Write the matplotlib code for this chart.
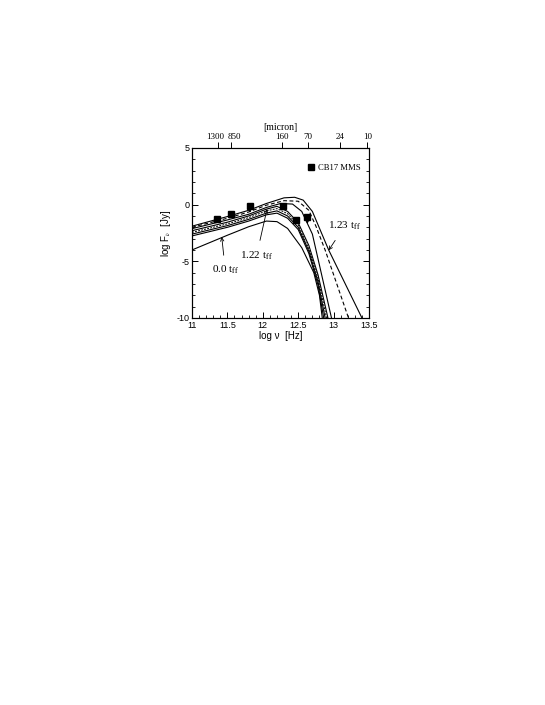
import numpy as np
import matplotlib
matplotlib.use("Agg")
import matplotlib.pyplot as plt
import matplotlib.transforms as mtransforms

plt.rcParams['font.family'] = ['Liberation Sans', 'DejaVu Sans']
plt.rcParams['mathtext.fontset'] = 'stix'
plt.rcParams['axes.unicode_minus'] = False

# model SEDs (log nu [Hz], log F_nu [Jy])
t0_x = [11.0, 11.5, 11.8, 12.05, 12.2, 12.35, 12.55, 12.72, 12.8, 12.84]
t0_y = [-4.0, -2.7, -1.95, -1.45, -1.5, -2.1, -3.8, -6.0, -8.0, -10.0]

g1_x = [11.0, 11.5, 11.8, 12.05, 12.2, 12.35, 12.5, 12.65, 12.78, 12.92]
g1_y = [-2.3, -1.55, -1.0, -0.4, -0.15, -0.6, -1.6, -3.6, -6.2, -10.0]
g2_x = [11.0, 11.5, 11.8, 12.05, 12.2, 12.35, 12.5, 12.65, 12.78, 12.90]
g2_y = [-2.45, -1.7, -1.15, -0.55, -0.35, -0.8, -1.8, -3.9, -6.5, -10.0]
g3_x = [11.0, 11.5, 11.8, 12.05, 12.2, 12.35, 12.5, 12.65, 12.78, 12.88]
g3_y = [-2.6, -1.85, -1.3, -0.75, -0.55, -1.0, -2.0, -4.1, -6.8, -10.0]
g4_x = [11.0, 11.5, 11.8, 12.05, 12.2, 12.35, 12.5, 12.65, 12.78, 12.86]
g4_y = [-2.76, -2.0, -1.45, -0.9, -0.75, -1.2, -2.2, -4.3, -7.1, -10.0]

b_x = [11.0, 11.5, 11.8, 12.05, 12.25, 12.42, 12.55, 12.7, 12.97]
b_y = [-2.12, -1.35, -0.85, -0.25, 0.1, 0.05, -0.6, -2.6, -10.0]

c_x = [11.0, 11.5, 11.8, 12.05, 12.3, 12.5, 12.65, 12.75, 12.88, 13.21]
c_y = [-2.0, -1.2, -0.65, -0.05, 0.35, 0.3, -0.5, -1.9, -4.0, -10.0]

a_x = [11.0, 11.5, 11.8, 12.05, 12.3, 12.45, 12.57, 12.7, 12.93, 13.4]
a_y = [-1.9, -1.05, -0.5, 0.1, 0.6, 0.65, 0.4, -0.6, -4.0, -10.0]

# CB17 MMS observations
obs_x = [11.36, 11.55, 11.82, 12.28, 12.47, 12.63]
obs_y = [-1.3, -0.86, -0.15, -0.09, -1.35, -1.06]
lim_x = [11.82, 12.63]
lim_top = [-0.15, -1.06]
lim_bot = [-0.95, -1.95]

micron = [1300, 850, 160, 70, 24, 10]
c_um = 2.998e14

fig = plt.figure(figsize=(5.45, 7.05), dpi=100)
ax = fig.add_axes([0.3523, 0.549, 0.3248, 0.2411])

lw = 0.8
ax.plot(t0_x, t0_y, 'k-', lw=lw)
ax.plot(g1_x, g1_y, 'k-', lw=lw)
ax.plot(g2_x, g2_y, 'k--', lw=0.7, dashes=(2, 1.2))
ax.plot(g3_x, g3_y, 'k-', lw=lw)
ax.plot(g4_x, g4_y, 'k-', lw=lw)
ax.plot(b_x, b_y, 'k-', lw=lw)
ax.plot(c_x, c_y, 'k--', lw=lw, dashes=(3.5, 2.2))
ax.plot(a_x, a_y, 'k-', lw=lw)

ax.plot(obs_x, obs_y, 's', color='k', ms=5, label='CB17 MMS', zorder=5)
for x, y0, y1 in zip(lim_x, lim_top, lim_bot):
    ax.annotate('', xy=(x, y1), xytext=(x, y0),
                arrowprops=dict(arrowstyle='->', lw=0.7, color='k', mutation_scale=6))

serif = ['Liberation Serif', 'DejaVu Serif']
ax.annotate('0.0 t$_{\\mathrm{ff}}$', xy=(11.42, -2.85), xytext=(11.47, -5.75),
            ha='center', va='center', fontsize=8, family=serif,
            arrowprops=dict(arrowstyle='->', lw=0.6, color='k', mutation_scale=6,
                            shrinkA=4, shrinkB=0))
ax.annotate('1.22 t$_{\\mathrm{ff}}$', xy=(12.06, -0.38), xytext=(11.91, -4.55),
            ha='center', va='center', fontsize=8, family=serif,
            arrowprops=dict(arrowstyle='->', lw=0.6, color='k', mutation_scale=6,
                            shrinkA=5, shrinkB=0))
ax.annotate('1.23 t$_{\\mathrm{ff}}$', xy=(12.93, -4.03), xytext=(13.16, -1.85),
            ha='center', va='center', fontsize=8, family=serif,
            arrowprops=dict(arrowstyle='->', lw=0.6, color='k', mutation_scale=6,
                            shrinkA=5, shrinkB=0))

ax.legend(loc='center left', bbox_to_anchor=(0.655, 0.885), frameon=False,
          handlelength=0.6, handletextpad=0.6, borderaxespad=0, borderpad=0,
          prop={'family': serif, 'size': 6.2})

ax.set_xlim(11, 13.5)
ax.set_ylim(-10, 5)
ax.set_xticks([11, 11.5, 12, 12.5, 13, 13.5])
ax.set_xticklabels(['11', '11.5', '12', '12.5', '13', '13.5'])
ax.set_xticks(np.arange(11, 13.51, 0.1), minor=True)
ax.set_yticks([-10, -5, 0, 5])
ax.set_yticks(np.arange(-10, 5.1, 1), minor=True)
ax.tick_params(which='both', direction='in', top=True, right=True, labelsize=6.5, pad=2)
ax.tick_params(which='major', length=4, width=0.7)
ax.tick_params(which='minor', length=2.2, width=0.6)
ax.set_xlabel('log ν  [Hz]', fontsize=7, labelpad=1)
ax.set_ylabel('log F$_{\\nu}$  [Jy]', fontsize=7)
ax.yaxis.set_label_coords(-0.107, 0.5)
for s in ax.spines.values():
    s.set_linewidth(0.8)

top = ax.twiny()
top.set_xlim(ax.get_xlim())
top.set_xticks([np.log10(c_um / m) for m in micron])
top.set_xticklabels([str(m) for m in micron], family=serif, fontsize=6.5)
top.tick_params(direction='out', length=4, width=0.7, pad=1)
top.set_xlabel('[micron]', family=serif, fontsize=7, labelpad=2)
# nudge the two crowded labels apart as in the original
shifts = [-2.5, 3.5]
for lab, dx in zip(top.get_xticklabels()[:2], shifts):
    lab.set_transform(lab.get_transform() +
                      mtransforms.ScaledTranslation(dx / 100, 0, fig.dpi_scale_trans))

fig.savefig('out.png', dpi=100)
